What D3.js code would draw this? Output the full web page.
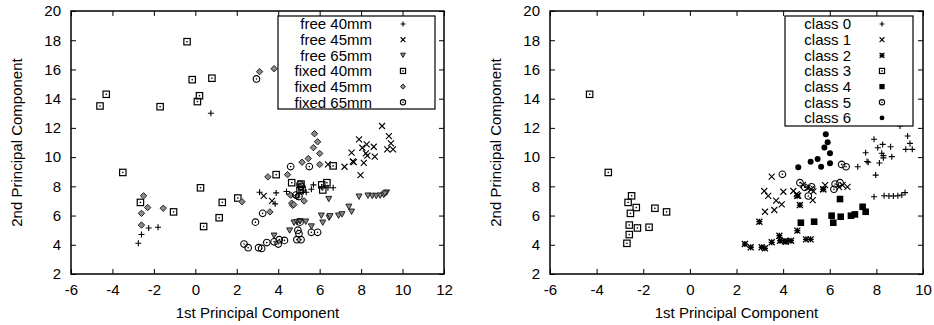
<!DOCTYPE html>
<html>
<head>
<meta charset="utf-8">
<script src="https://cdn.jsdelivr.net/npm/d3@7"></script>
<style>
  body { margin: 0; background: #fff; }
  text { font-family: "Liberation Sans", Arial, sans-serif; fill: #000; }
</style>
</head>
<body>
<svg id="chart" width="934" height="325"></svg>
<script>
// left panel: measurement setups
const free40 = [[0.75,13.0],[-2.75,4.1],[-2.6,4.7],[-2.25,5.15],[-1.8,5.2],[3.1,7.6],[3.9,7.55],[3.85,6.8],
  [4.4,7.65],[4.55,7.45],[5.0,7.95],[5.2,7.7],[5.35,7.6],[5.6,7.8],[5.7,8.1],[6.1,7.95],[6.4,7.9],[6.65,7.9]];
const free45 = [[3.3,7.35],[3.7,7.0],[6.4,9.5],[7.2,9.34],[7.54,10.3],[7.6,9.7],[7.65,9.65],[7.9,11.22],
  [7.97,8.77],[8.06,10.64],[8.13,9.6],[8.23,10.26],[8.27,10.87],[8.3,10.1],[8.61,10.71],[8.66,10.03],
  [9.01,12.13],[9.26,10.53],[9.34,11.44],[9.44,10.94],[9.54,10.53]];
const free65 = [[3.8,4.62],[4.55,4.97],[4.76,5.51],[4.9,5.55],[5.05,5.6],[5.33,5.58],[5.6,5.25],[6.08,5.99],
  [6.15,5.51],[6.44,7.13],[6.45,5.85],[6.5,5.95],[6.91,5.99],[7.08,6.08],[7.41,6.6],[7.54,6.26],
  [7.9,7.29],[8.33,7.36],[8.54,7.34],[8.73,7.34],[8.92,7.36],[9.09,7.41],[9.23,7.57],[9.15,7.5]];
const fixed40 = [[-4.6,13.5],[-4.3,14.3],[-3.5,8.95],[-2.65,6.9],[-1.7,13.45],[-1.05,6.25],[-0.4,17.9],
  [-0.15,15.3],[0.1,13.8],[0.2,14.2],[0.25,7.9],[0.4,5.25],[0.8,15.4],[1.15,5.85],[1.3,6.9],[2.05,7.2],
  [3.9,8.8],[4.65,8.25],[5.05,7.7],[5.1,8.15],[5.15,7.8],[6.1,8.1],[6.35,8.25],[6.15,7.75],[6.65,9.4]];
const fixed45 = [[-2.5,7.35],[-2.6,6.15],[-2.3,6.55],[-2.6,5.35],[-1.55,6.5],[2.25,6.95],[3.1,15.85],
  [3.8,16.05],[3.5,8.65],[3.6,6.25],[4.45,8.8],[4.65,6.85],[4.7,6.7],[4.75,6.75],[4.6,7.4],[4.9,7.3],
  [5.15,9.65],[5.25,7.0],[5.45,9.9],[5.7,10.65],[5.75,11.6],[5.9,11.05],[6.0,10.25],[6.0,9.5]];
const fixed65 = [[2.95,15.35],[2.9,5.55],[2.35,4.05],[2.55,3.8],[3.05,3.8],[3.2,3.75],[3.45,4.15],[3.8,4.2],
  [4.0,4.05],[4.05,4.35],[4.3,4.3],[4.6,9.35],[4.9,4.35],[4.95,5.0],[5.0,4.75],[5.1,4.35],[5.05,5.55],
  [5.05,8.15],[5.1,8.0],[5.5,9.35],[5.6,4.85],[5.9,4.85],[4.85,7.4],[3.25,6.15],[5.0,7.3]];

// right panel: classes
const class0 = [[7.54,10.3],[7.6,9.7],[7.65,9.65],[7.2,9.34],[7.9,11.22],[7.97,8.77],[8.06,10.64],[8.13,9.6],
  [8.23,10.26],[8.27,10.87],[8.3,10.1],[8.3,9.95],[8.61,10.71],[8.66,10.03],[9.01,12.13],[9.26,10.53],
  [9.34,11.44],[9.44,10.94],[9.54,10.53],[7.9,7.29],[8.33,7.36],[8.54,7.34],[8.73,7.34],[8.92,7.36],
  [9.09,7.41],[9.23,7.57]];
const class1 = [[3.51,8.66],[3.19,7.68],[3.36,7.34],[4.01,7.63],[3.7,7.02],[3.94,6.77],[3.22,6.26],[3.62,6.38],
  [4.44,7.68],[4.58,7.47],[4.65,7.36],[4.85,8.1],[5.05,7.9],[5.2,7.8],[5.3,7.65],[5.27,7.06],[5.8,8.09],
  [5.72,7.8],[6.55,8.09],[6.76,7.97],[6.4,7.95]];
const class2 = [[2.98,5.58],[2.36,4.05],[2.61,3.83],[3.08,3.83],[3.22,3.76],[3.51,4.17],[3.84,4.62],[3.87,4.28],
  [4.08,4.26],[4.12,4.21],[4.34,4.28],[4.61,4.97],[4.72,6.72],[4.61,7.36],[4.98,4.37],[5.18,4.37],[5.72,7.8]];
const class3 = [[-4.3,14.3],[-3.5,8.95],[-2.5,7.35],[-2.65,6.9],[-2.3,6.55],[-2.55,6.15],[-2.6,5.35],
  [-2.6,4.7],[-2.25,5.15],[-1.75,5.2],[-1.5,6.5],[-1.0,6.25],[-2.7,4.1]];
const class4 = [[4.76,5.51],[5.33,5.58],[6.08,5.99],[6.15,5.51],[6.47,5.92],[6.44,7.13],[6.91,5.99],
  [7.08,6.08],[7.41,6.6],[7.54,6.26]];
const class5 = [[3.97,8.82],[4.72,8.25],[4.93,7.93],[5.22,7.97],[5.08,7.34],[6.23,8.16],[6.44,8.25],
  [6.18,7.8],[6.51,9.5],[6.7,9.34]];
const class6 = [[5.83,11.56],[5.91,11.01],[5.77,10.65],[6.01,10.26],[5.48,9.87],[5.18,9.69],[4.65,9.3],
  [5.63,9.34],[6.01,9.58]];

const leftLabels = ["free 40mm", "free 45mm", "free 65mm", "fixed 40mm", "fixed 45mm", "fixed 65mm"];
const rightLabels = ["class 0", "class 1", "class 2", "class 3", "class 4", "class 5", "class 6"];
const leftXTicks = [-6, -4, -2, 0, 2, 4, 6, 8, 10, 12];
const rightXTicks = [-6, -4, -2, 0, 2, 4, 6, 8, 10];
const yTicks = [2, 4, 6, 8, 10, 12, 14, 16, 18, 20];

const svg = d3.select("#chart");

// draw one point symbol into g (already translated to the point)
function mark(g, type, s) {
  const ink = "#000";
  if (type === "plus") {
    g.append("path").attr("d", `M${-s},0H${s}M0,${-s}V${s}`).attr("stroke", ink).attr("stroke-width", 1.1);
  } else if (type === "cross") {
    g.append("path").attr("d", `M${-s},${-s}L${s},${s}M${-s},${s}L${s},${-s}`).attr("stroke", ink).attr("stroke-width", 1.1);
  } else if (type === "star") {
    g.append("path").attr("d", `M${-s},0H${s}M0,${-s}V${s}M${-s},${-s}L${s},${s}M${-s},${s}L${s},${-s}`)
      .attr("stroke", ink).attr("stroke-width", 1.3);
  } else if (type === "box") {
    g.append("rect").attr("x", -s).attr("y", -s).attr("width", 2 * s).attr("height", 2 * s)
      .attr("fill", "none").attr("stroke", ink).attr("stroke-width", 1.2);
    g.append("rect").attr("x", -0.7).attr("y", -0.7).attr("width", 1.4).attr("height", 1.4).attr("fill", ink);
  } else if (type === "boxF") {
    g.append("rect").attr("x", -s).attr("y", -s).attr("width", 2 * s).attr("height", 2 * s).attr("fill", ink);
  } else if (type === "circle") {
    g.append("circle").attr("r", s).attr("fill", "none").attr("stroke", ink).attr("stroke-width", 1.1);
    g.append("circle").attr("r", 0.8).attr("fill", ink);
  } else if (type === "circleF") {
    g.append("circle").attr("r", s).attr("fill", ink);
  } else if (type === "diamond") {
    g.append("path").attr("d", `M0,${-s}L${s},0L0,${s}L${-s},0Z`)
      .attr("fill", "#8a8a8a").attr("stroke", "#222").attr("stroke-width", 1);
  } else if (type === "tri") {
    const h = s * 0.9;
    g.append("path").attr("d", `M${-s},${-h}L${s},${-h}L0,${h}Z`)
      .attr("fill", "#8a8a8a").attr("stroke", "#222").attr("stroke-width", 1);
  }
}

function panel(cfg) {
  const x = d3.scaleLinear().domain(cfg.xDomain).range([cfg.left, cfg.right]);
  const y = d3.scaleLinear().domain([2, 20]).range([274, 11]);
  const g = svg.append("g");
  const fmt = d => String(d);

  const styleAxis = a => {
    a.attr("font-size", 15).attr("font-family", '"Liberation Sans", Arial, sans-serif');
    a.select(".domain").remove();
    a.selectAll("line").attr("stroke", "#000");
    a.selectAll("text").attr("fill", "#000");
  };

  g.append("g").attr("transform", "translate(0,274)")
    .call(d3.axisBottom(x).tickValues(cfg.xTicks).tickFormat(fmt).tickSize(-5).tickSizeOuter(0).tickPadding(10))
    .call(styleAxis);
  g.append("g").attr("transform", "translate(0,11)")
    .call(d3.axisTop(x).tickValues(cfg.xTicks).tickFormat("").tickSize(-5).tickSizeOuter(0))
    .call(styleAxis);
  g.append("g").attr("transform", `translate(${cfg.left},0)`)
    .call(d3.axisLeft(y).tickValues(yTicks).tickFormat(fmt).tickSize(-5).tickSizeOuter(0).tickPadding(10))
    .call(styleAxis);
  g.append("g").attr("transform", `translate(${cfg.right},0)`)
    .call(d3.axisRight(y).tickValues(yTicks).tickFormat("").tickSize(-5).tickSizeOuter(0))
    .call(styleAxis);

  g.append("rect").attr("x", cfg.left).attr("y", 11)
    .attr("width", cfg.right - cfg.left).attr("height", 263)
    .attr("fill", "none").attr("stroke", "#000").attr("stroke-width", 1.5);

  // points
  cfg.series.forEach(sr => {
    sr.data.forEach(d => {
      const pg = g.append("g").attr("transform", `translate(${x(d[0])},${y(d[1])})`);
      mark(pg, sr.type, sr.size);
    });
  });

  // legend
  const lg = g.append("g");
  lg.append("rect").attr("x", cfg.legend.x0).attr("y", 16)
    .attr("width", cfg.legend.x1 - cfg.legend.x0).attr("height", cfg.legend.h)
    .attr("fill", "#fff").attr("stroke", "#000").attr("stroke-width", 1.2);
  cfg.series.forEach((sr, i) => {
    const cy = 24 + i * 15.65;
    lg.append("text").attr("x", cfg.legend.textX).attr("y", cy + 5.3)
      .attr("text-anchor", "end").attr("font-size", 15).text(cfg.labels[i]);
    const pg = lg.append("g").attr("transform", `translate(${cfg.legend.symX},${cy})`);
    mark(pg, sr.type, sr.size * 0.8);
  });

  // axis titles
  g.append("text").attr("x", (cfg.left + cfg.right) / 2).attr("y", 318)
    .attr("text-anchor", "middle").attr("font-size", 15).text("1st Principal Component");
  g.append("text").attr("transform", `translate(${cfg.yTitleX},142.5) rotate(-90)`)
    .attr("text-anchor", "middle").attr("font-size", 15).text("2nd Principal Component");
}

panel({
  left: 71, right: 444, xDomain: [-6, 12], xTicks: leftXTicks, yTitleX: 22,
  labels: leftLabels,
  legend: { x0: 278, x1: 435, h: 93, textX: 372, symX: 403 },
  series: [
    { data: free40, type: "plus", size: 3 },
    { data: free45, type: "cross", size: 3 },
    { data: free65, type: "tri", size: 3 },
    { data: fixed40, type: "box", size: 3.2 },
    { data: fixed45, type: "diamond", size: 3.2 },
    { data: fixed65, type: "circle", size: 3.3 }
  ]
});

panel({
  left: 550, right: 923, xDomain: [-6, 10], xTicks: rightXTicks, yTitleX: 501,
  labels: rightLabels,
  legend: { x0: 785, x1: 913, h: 110, textX: 851, symX: 882 },
  series: [
    { data: class0, type: "plus", size: 3 },
    { data: class1, type: "cross", size: 3 },
    { data: class2, type: "star", size: 3 },
    { data: class3, type: "box", size: 3.2 },
    { data: class4, type: "boxF", size: 3.3 },
    { data: class5, type: "circle", size: 3.3 },
    { data: class6, type: "circleF", size: 3 }
  ]
});
</script>
</body>
</html>
